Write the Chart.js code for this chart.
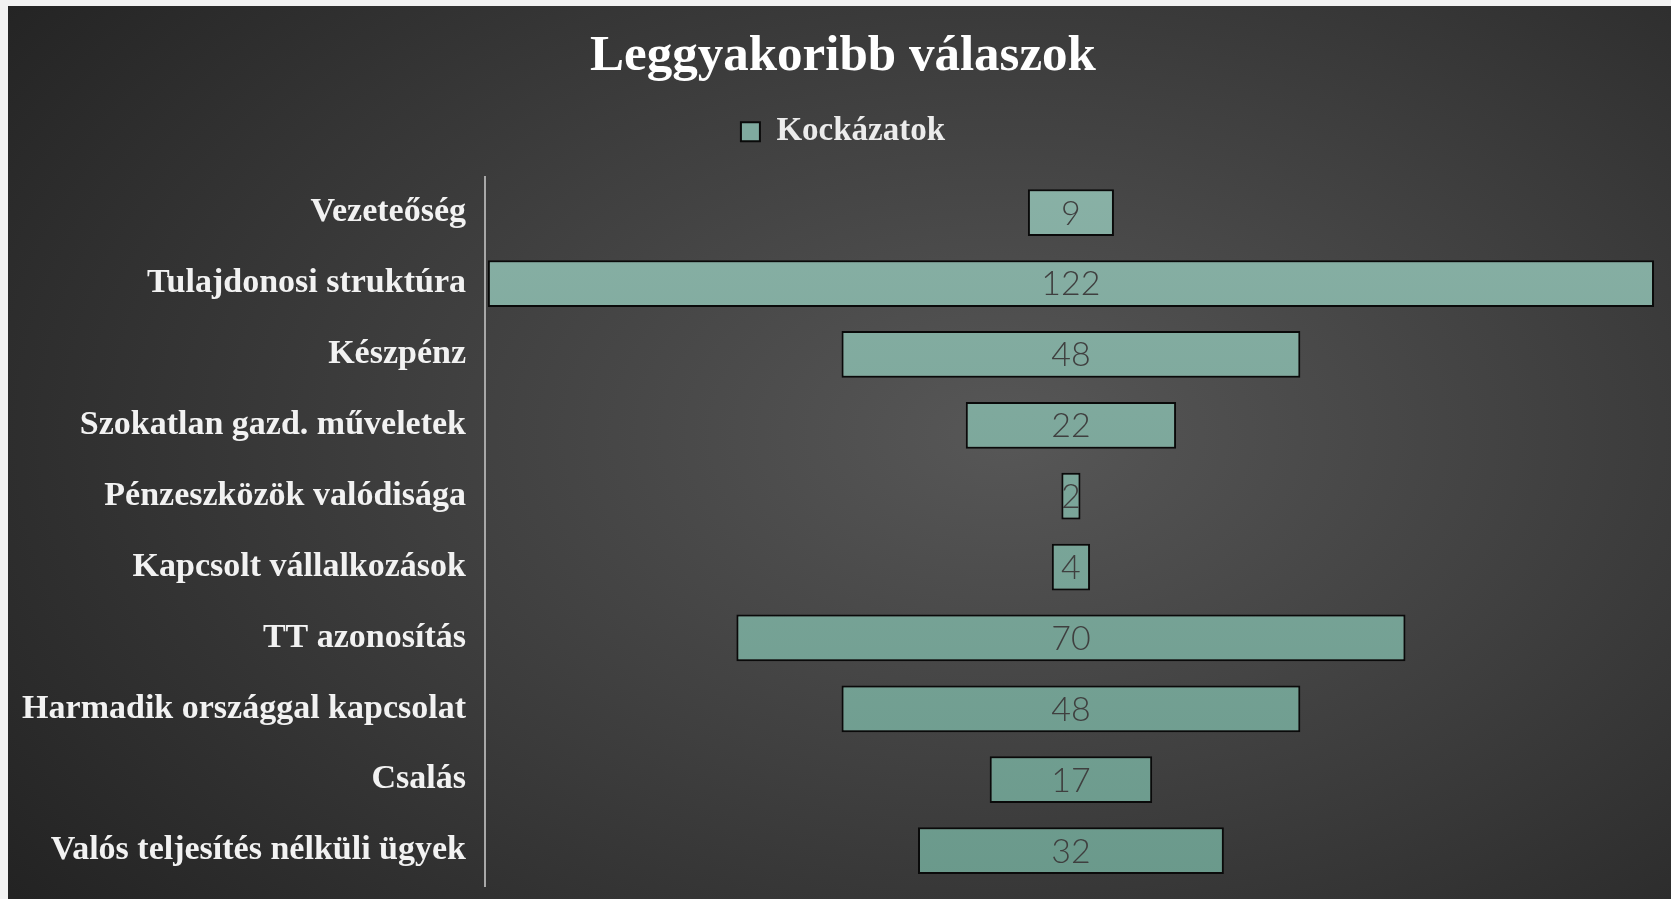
<!DOCTYPE html>
<html>
<head>
<meta charset="utf-8">
<script src="https://cdn.jsdelivr.net/npm/chart.js@4.4.1/dist/chart.umd.min.js"></script>
<style>
  html, body { margin: 0; padding: 0; background: #f2f2f2; overflow: hidden; }
  #wrap {
    position: absolute; left: 8px; top: 6px; width: 1663px; height: 893px;
    background: radial-gradient(ellipse 75% 85% at 60% 48%, #575757 0%, #404040 45%, #232323 100%);
  }
  #funnel { display: block; }
</style>
</head>
<body>
<div id="wrap"><canvas id="funnel" width="1663" height="893"></canvas></div>
<script>
// adatok
const categories = [
  'Vezeteőség',
  'Tulajdonosi struktúra',
  'Készpénz',
  'Szokatlan gazd. műveletek',
  'Pénzeszközök valódisága',
  'Kapcsolt vállalkozások',
  'TT azonosítás',
  'Harmadik országgal kapcsolat',
  'Csalás',
  'Valós teljesítés nélküli ügyek'
];
const kockazatok = [9, 122, 48, 22, 2, 4, 70, 48, 17, 32];
const seriesName = 'Kockázatok';
const chartTitle = 'Leggyakoribb válaszok';

const serif = "'Liberation Serif', 'DejaVu Serif', serif";

// tölcsér: a sávok középre igazítva
const maxVal = Math.max(...kockazatok);
const floating = kockazatok.map(v => [-v / 2, v / 2]);

// szám a sáv közepére
const centerLabels = {
  id: 'centerLabels',
  afterDatasetsDraw(chart) {
    const ctx = chart.ctx;
    const meta = chart.getDatasetMeta(0);
    ctx.save();
    ctx.font = "300 34px Lato, 'Open Sans', sans-serif";
    ctx.fillStyle = '#3f3f3f';
    ctx.textAlign = 'center';
    ctx.textBaseline = 'middle';
    meta.data.forEach((bar, i) => {
      const p = bar.getProps(['x', 'y', 'base'], true);
      ctx.fillText(String(kockazatok[i]), (p.x + p.base) / 2, p.y + 1);
    });
    ctx.restore();
  }
};

// több hely a jelmagyarázat alatt, és a hosszú feliratok ne vágódjanak le
const layoutTweaks = {
  id: 'layoutTweaks',
  beforeInit(chart) {
    const fit = chart.legend.fit;
    chart.legend.fit = function () {
      fit.call(this);
      this.height += 19;
    };
  },
  afterLayout(chart) {
    chart.scales.y.left = 0;
  }
};

const fillGradient = (context) => {
  const area = context.chart.chartArea;
  if (!area) return '#7aa89b';
  const g = context.chart.ctx.createLinearGradient(0, area.top, 0, area.bottom);
  g.addColorStop(0, '#89b1a6');
  g.addColorStop(1, '#6a998b');
  return g;
};

new Chart(document.getElementById('funnel'), {
  type: 'bar',
  data: {
    labels: categories,
    datasets: [{
      label: seriesName,
      data: floating,
      backgroundColor: fillGradient,
      borderColor: '#0a0a0a',
      borderWidth: 2,
      borderSkipped: false,
      categoryPercentage: 0.66,
      barPercentage: 1.0
    }]
  },
  options: {
    indexAxis: 'y',
    responsive: false,
    animation: false,
    layout: { padding: { top: 0, right: 17, bottom: 13, left: 24 } },
    plugins: {
      title: {
        display: true,
        text: chartTitle,
        color: '#ffffff',
        font: { family: serif, size: 51, weight: 'bold' },
        padding: { top: 20, bottom: 16 }
      },
      legend: {
        display: true,
        labels: {
          color: '#ececec',
          font: { family: serif, size: 33, weight: 'bold' },
          boxWidth: 19,
          boxHeight: 19,
          padding: 12,
          generateLabels: () => [{
            text: seriesName,
            fillStyle: '#7faa9f',
            strokeStyle: '#0a0a0a',
            lineWidth: 2,
            fontColor: '#ececec',
            datasetIndex: 0
          }]
        }
      },
      tooltip: { enabled: false }
    },
    scales: {
      x: {
        display: false,
        min: -maxVal / 2 - 0.3,
        max: maxVal / 2
      },
      y: {
        grid: { display: false, drawTicks: false },
        border: { display: true, color: '#a8a8a8', width: 2 },
        afterFit: (scale) => {
          scale.width = 453;
          scale.paddingTop = 0;
          scale.paddingBottom = 0;
        },
        ticks: {
          color: '#f2f2f2',
          padding: 19,
          font: { family: serif, size: 34, weight: 'bold' }
        }
      }
    }
  },
  plugins: [centerLabels, layoutTweaks]
});
</script>
</body>
</html>
